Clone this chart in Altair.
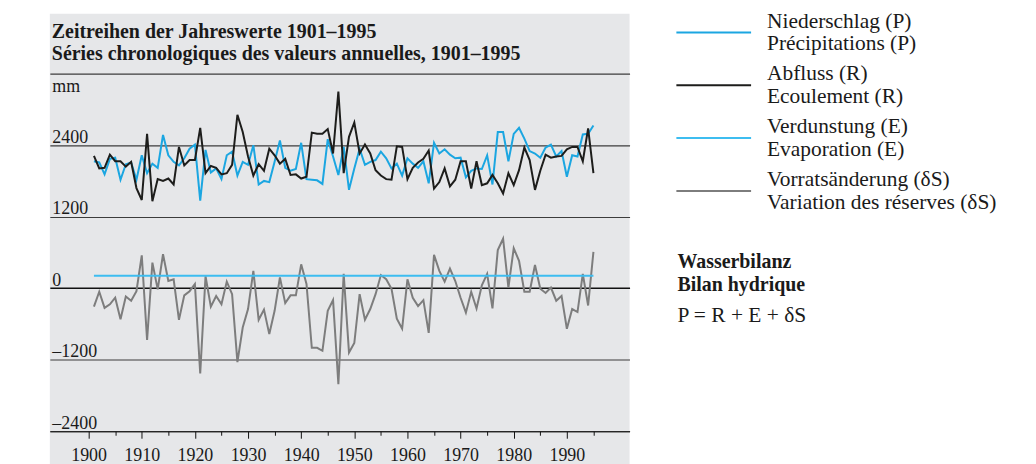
import altair as alt
import pandas as pd

years = list(range(1901, 1996))

precip = [2130, 2110, 1910, 2170, 2190, 1820, 2080, 2110, 1820, 2230,
          1930, 2090, 2020, 2570, 2230, 2120, 2060, 2180, 2340, 2410,
          1470, 2320, 1940, 2010, 1830, 2230, 2290, 1890, 2120, 2070,
          2400, 1740, 1800, 1780, 2120, 2480, 2020, 1970, 2000, 2440,
          1830, 1820, 1810, 1750, 2500, 2210, 1900, 2370, 1650, 2010,
          2340, 2070, 2120, 2150, 2290, 2180, 2010, 2090, 1890, 2180,
          2090, 2020, 2130, 1760, 2440, 2260, 2330, 2240, 2180, 2190,
          1860, 1970, 2010, 2000, 2230, 1740, 2620, 2620, 2130, 2590,
          2690, 2510, 2300, 2260, 2190, 2360, 2410, 2210, 2300, 1870,
          2230, 2210, 2580, 2590, 2730]

runoff = [2220, 2010, 2020, 2240, 2130, 2130, 2040, 2120, 1680, 1480,
          2590, 1460, 1830, 1800, 1840, 1740, 2370, 2060, 2150, 2150,
          2690, 1930, 2050, 2020, 1910, 1930, 2070, 2910, 2620, 2210,
          1890, 2080, 1970, 2340, 2230, 2090, 2170, 1900, 1910, 1840,
          1870, 2610, 2590, 2590, 2670, 2260, 3300, 1930, 2540, 2780,
          2260, 2410, 2260, 1980, 1890, 1830, 1820, 2380, 2370, 1830,
          2020, 2110, 2170, 2310, 1670, 1780, 2010, 1710, 1820, 2130,
          2130, 1670, 2130, 1730, 1760, 1900, 1760, 1590, 1930, 1730,
          1980, 2360, 2150, 1650, 1970, 2240, 2190, 2210, 2220, 2330,
          2370, 2370, 2130, 2680, 1930]

# evaporation is drawn as a flat line at about 210 mm
evap = [210] * len(years)

storage = [-310, -60, -330, -270, -160, -520, -140, -210, -50, 550,
           -870, 430, -20, 570, 120, 150, -530, -120, -50, 70,
           -1430, 200, -310, -130, -270, 110, -100, -1240, -660, -350,
           290, -530, -360, -770, -380, 180, -250, -120, -120, 400,
           70, -1000, -1000, -1050, -380, -200, -1610, 240, -1080, -920,
           -100, -530, -350, -100, 220, 150, -10, -510, -680, 150,
           -160, -300, -200, -750, 560, 290, 110, 330, 120, -160,
           -410, -60, -340, 50, 240, -340, 640, 830, 10, 670,
           460, -60, -60, 390, -10, -80, 10, -210, -130, -680,
           -350, -400, 240, -290, 610]

S_P = "Niederschlag (P)|Précipitations (P)"
S_R = "Abfluss (R)|Ecoulement (R)"
S_E = "Verdunstung (E)|Evaporation (E)"
S_S = "Vorratsänderung (δS)|Variation des réserves (δS)"

series_order = [S_P, S_R, S_E, S_S]
series_colors = ["#1ba6e1", "#1d1d1b", "#3dbdf0", "#7d7d7d"]
series_widths = [2.0, 2.0, 2.0, 2.6]

title_text = ["Zeitreihen der Jahreswerte 1901–1995\nSéries chronologiques des valeurs annuelles, 1901–1995"]
note_bold = ["Wasserbilanz\nBilan hydrique"]
note_plain = ["P = R + E + δS"]

rows = []
for name, vals in [(S_S, storage), (S_E, evap), (S_P, precip), (S_R, runoff)]:
    for yr, v in zip(years, vals):
        rows.append({"year": yr, "value": v, "series": name})
df = pd.DataFrame(rows)

FONT = "Liberation Serif"
TXT = "#1a1a1a"

lines = alt.Chart(df).mark_line(clip=False).encode(
    x=alt.X("year:Q",
            scale=alt.Scale(domain=[1892.7, 2001.8], nice=False, zero=False),
            axis=alt.Axis(values=list(range(1900, 1996, 5)), format="d",
                          labelExpr="datum.value % 10 === 0 ? datum.label : ''",
                          tickSize={"condition": {"test": "datum.value % 10 === 0", "value": 7}, "value": 4},
                          labelOverlap=False, labelFlush=False,
                          offset=-33, labelPadding=8,
                          domainColor="#111", tickColor="#111", tickWidth=1, domainWidth=1.2,
                          labelFont=FONT, labelFontSize=18, labelColor=TXT,
                          grid=False, title=None)),
    y=alt.Y("value:Q",
            scale=alt.Scale(domain=[-2951.5, 4602.8], nice=False, zero=False),
            axis=alt.Axis(values=[-2400, -1200, 0, 1200, 2400, 3600],
                          labelExpr="datum.value === 3600 ? '' : datum.value < 0 ? '–' + abs(datum.value) : '' + datum.value",
                          labelAlign="left", labelBaseline="alphabetic",
                          labelPadding=-2, labelOffset=-3,
                          ticks=False, tickSize=0, domain=False, grid=True,
                          gridColor={"condition": {"test": "datum.value === 0", "value": "#111"}, "value": "#3c3c3c"},
                          gridWidth={"condition": {"test": "datum.value === 0", "value": 1.6}, "value": 1.1},
                          labelFont=FONT, labelFontSize=18, labelColor=TXT,
                          title="mm", titleAngle=0, titleAlign="left", titleBaseline="alphabetic",
                          titleX=2, titleY=78, titleFont=FONT, titleFontSize=18,
                          titleFontWeight="normal", titleColor=TXT)),
    color=alt.Color("series:N",
                    scale=alt.Scale(domain=series_order, range=series_colors),
                    legend=alt.Legend(orient="none", legendX=628, legendY=-7.8, title=None,
                                      labelExpr="split(datum.label, '|')",
                                      labelFont=FONT, labelFontSize=21.5, labelColor=TXT,
                                      labelLimit=400, labelOffset=15, labelBaseline="bottom",
                                      symbolType="M-1,0H1", symbolSize=5625, symbolStrokeWidth=2.5,
                                      clipHeight=53, rowPadding=0, padding=0)),
    strokeWidth=alt.StrokeWidth("series:N",
                                scale=alt.Scale(domain=series_order, range=series_widths),
                                legend=None),
)

title = alt.Chart(pd.DataFrame({"t": title_text})).mark_text(
    align="left", baseline="alphabetic", font=FONT, fontSize=20, fontWeight="bold",
    color=TXT, lineBreak="\n", lineHeight=21.5
).encode(x=alt.value(2), y=alt.value(24.5), text="t:N")

notes1 = alt.Chart(pd.DataFrame({"t": note_bold})).mark_text(
    align="left", baseline="alphabetic", font=FONT, fontSize=20, fontWeight="bold",
    color=TXT, lineBreak="\n", lineHeight=23.4
).encode(x=alt.value(630), y=alt.value(255), text="t:N")

notes2 = alt.Chart(pd.DataFrame({"t": note_plain})).mark_text(
    align="left", baseline="alphabetic", font=FONT, fontSize=21.5,
    color=TXT
).encode(x=alt.value(630), y=alt.value(309), text="t:N")

chart = alt.layer(lines, title, notes1, notes2).properties(
    width=582, height=452,
    padding={"left": 42, "top": 5, "right": 400, "bottom": 0},
    autosize="none",
).configure(
    background="white",
    style={"guide-label": {"lineHeight": 23}},
).configure_view(
    fill="#e6e7e9", stroke=None
)

chart.save("out.html", embed_options={"renderer": "svg", "actions": False})
